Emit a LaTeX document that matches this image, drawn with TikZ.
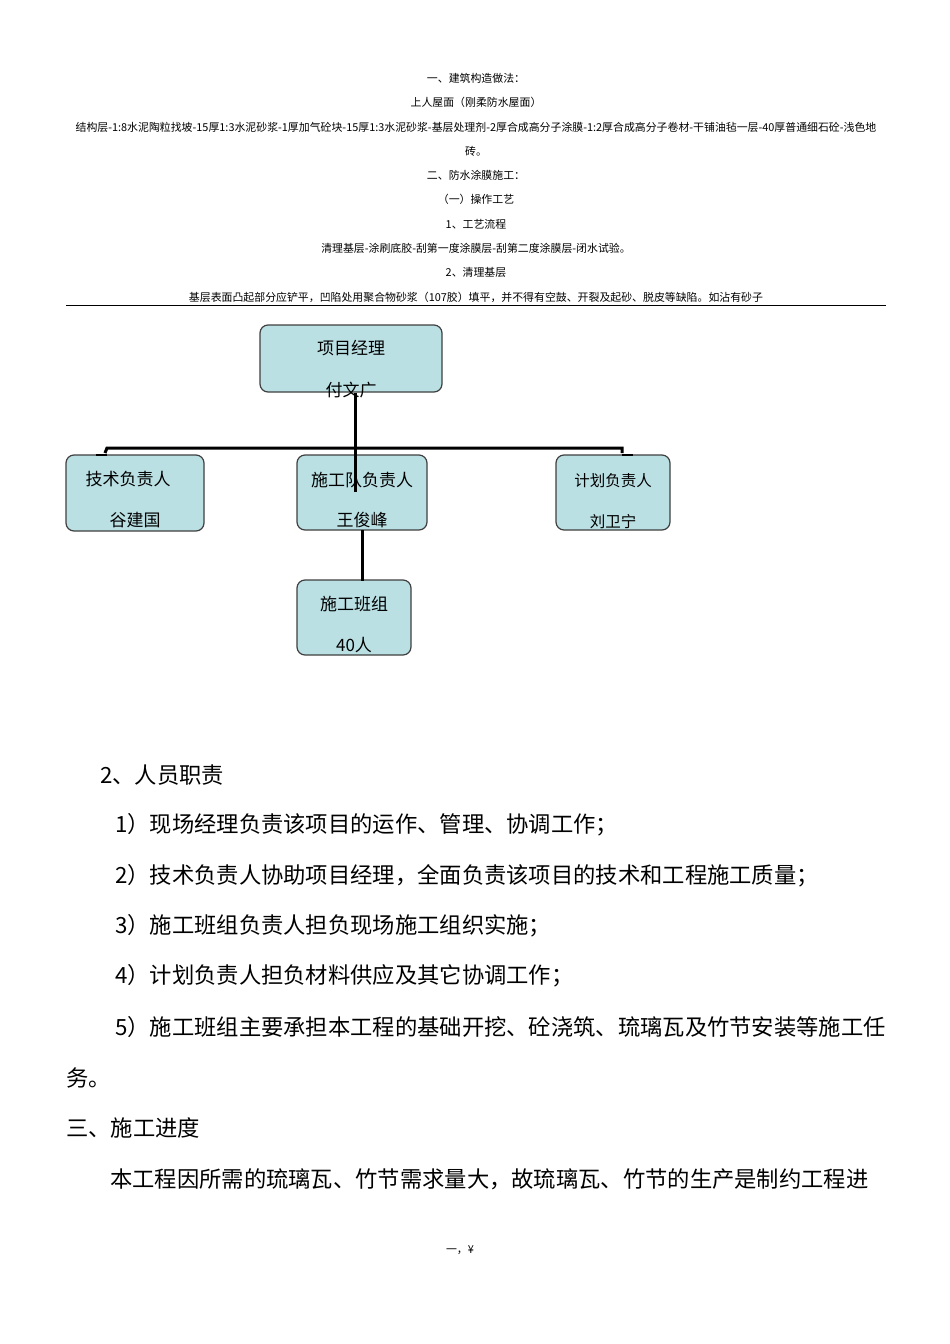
\documentclass[tikz,border=0pt]{standalone}
\usepackage{fontspec}
\newfontfamily\cjk{Noto Sans CJK SC}
\definecolor{boxfill}{RGB}{186,224,228}
\begin{document}
\begin{tikzpicture}[x=1pt,y=-1pt,
  small/.style={font=\cjk\fontsize{10.9}{12}\selectfont,inner sep=0pt},
  body/.style={font=\cjk\fontsize{22.3}{26}\selectfont,inner sep=0pt,anchor=west},
  box/.style={draw=black!75,line width=1.2pt,fill=boxfill,rounded corners=8pt},
  lbl/.style={font=\cjk\fontsize{17}{20}\selectfont,inner sep=0pt},
  conn/.style={line width=3pt}]
\useasboundingbox (0,0) rectangle (950,1344);
\fill[white] (0,0) rectangle (950,1344);
\node[small] (t1) at (476,78) {一、建筑构造做法：};
\node[small] (t2) at (476,102) {上人屋面（刚柔防水屋面）};
\node[small] (t3) at (476,127) {结构层-1:8水泥陶粒找坡-15厚1:3水泥砂浆-1厚加气砼块-15厚1:3水泥砂浆-基层处理剂-2厚合成高分子涂膜-1:2厚合成高分子卷材-干铺油毡一层-40厚普通细石砼-浅色地};
\node[small] (t4) at (476,151) {砖。};
\node[small] (t5) at (476,175) {二、防水涂膜施工：};
\node[small] (t6) at (476,199) {（一）操作工艺};
\node[small] (t7) at (476,224) {1、工艺流程};
\node[small] (t8) at (476,248) {清理基层-涂刷底胶-刮第一度涂膜层-刮第二度涂膜层-闭水试验。};
\node[small] (t9) at (476,272) {2、清理基层};
\node[small] (t10) at (476,297) {基层表面凸起部分应铲平，凹陷处用聚合物砂浆（107胶）填平，并不得有空鼓、开裂及起砂、脱皮等缺陷。如沾有砂子};
\draw[line width=0.8pt] (66,305) -- (886,305);
\draw[box] (260,325) rectangle (442,392);
\node[lbl] (pm1) at (351,348) {项目经理};
\node[lbl] (pm2) at (351,390) {付文广};
\draw[box] (66,455) rectangle (204,531);
\node[lbl] (a1) at (128,479) {技术负责人};
\node[lbl] (a2) at (135,520) {谷建国};
\draw[box] (297,455) rectangle (427,530);
\node[lbl] (b1) at (362,480) {施工队负责人};
\node[lbl] (b2) at (362,520) {王俊峰};
\draw[box] (556,455) rectangle (670,530);
\node[lbl,font=\cjk\fontsize{15.5}{18}\selectfont] (c1) at (613,481) {计划负责人};
\node[lbl,font=\cjk\fontsize{15.5}{18}\selectfont] (c2) at (613,522) {刘卫宁};
\draw[box] (297,580) rectangle (411,655);
\node[lbl] (d1) at (354,604) {施工班组};
\node[lbl] (d2) at (354,645) {40人};
\coordinate (top) at (355,393);
\coordinate (midb) at (355,492);
\coordinate (L) at (107,448);
\coordinate (R) at (622,448);
\draw[conn] (top) -- (midb);
\draw[conn] (105,453) -- (L) -- (R) -- (622,453);
\draw[conn,line width=1.5pt] (96,455) -- (107,455);
\draw[conn,line width=1.5pt] (622,455) -- (633,455);
\draw[conn] (362,530) -- (362,581);
\node[body] (p1) at (100,775) {2、人员职责};
\node[body] (p2) at (115,825) {1）现场经理负责该项目的运作、管理、协调工作；};
\node[body] (p3) at (115,876) {2）技术负责人协助项目经理，全面负责该项目的技术和工程施工质量；};
\node[body] (p4) at (115,926) {3）施工班组负责人担负现场施工组织实施；};
\node[body] (p5) at (115,976) {4）计划负责人担负材料供应及其它协调工作；};
\node[body] (p6) at (115,1027) {5）施工班组主要承担本工程的基础开挖、砼浇筑、琉璃瓦及竹节安装等施工任};
\node[body] (p7) at (66,1078) {务。};
\node[body] (p8) at (66,1128) {三、施工进度};
\node[body] (p9) at (110,1179) {本工程因所需的琉璃瓦、竹节需求量大，故琉璃瓦、竹节的生产是制约工程进};
\node[small] (f) at (460,1250) {一，¥};
\end{tikzpicture}
\end{document}
